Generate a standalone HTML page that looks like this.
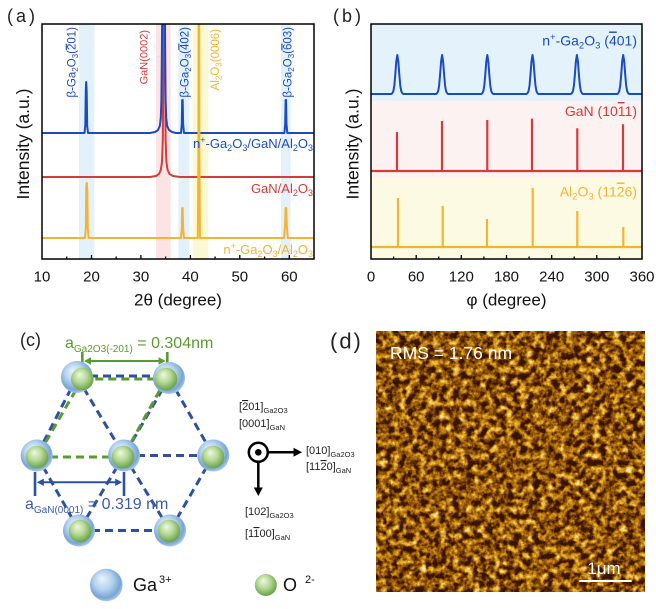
<!DOCTYPE html>
<html><head><meta charset="utf-8"><style>
html,body{margin:0;padding:0;background:#fff;}
body{width:656px;height:609px;overflow:hidden;}
svg{display:block;}
</style></head><body>
<svg width="656" height="609" viewBox="0 0 656 609" xmlns="http://www.w3.org/2000/svg" font-family="'Liberation Sans', Arial, sans-serif">
<defs>
<clipPath id="ca"><rect x="42" y="24" width="272" height="235"/></clipPath>
<clipPath id="cb"><rect x="371" y="24" width="271" height="235"/></clipPath>
<radialGradient id="ga" cx="0.45" cy="0.42" r="0.58" fx="0.36" fy="0.3">
<stop offset="0" stop-color="#eaf4fd"/><stop offset="0.5" stop-color="#b3d2ee"/><stop offset="0.85" stop-color="#78a5d3"/><stop offset="1" stop-color="#a8c8e8"/>
</radialGradient>
<radialGradient id="ox" cx="0.45" cy="0.42" r="0.6" fx="0.38" fy="0.3">
<stop offset="0" stop-color="#f0f9e2"/><stop offset="0.5" stop-color="#b5d996"/><stop offset="0.88" stop-color="#78ad56"/><stop offset="1" stop-color="#66994a"/>
</radialGradient>
<filter id="afm" filterUnits="userSpaceOnUse" x="376" y="331" width="269" height="261" color-interpolation-filters="sRGB">
<feTurbulence type="fractalNoise" baseFrequency="0.15" numOctaves="3" seed="5" result="t"/>
<feColorMatrix in="t" type="matrix" values="0.6 0.4 0 0 0  0.6 0.4 0 0 0  0.6 0.4 0 0 0  0 0 0 0 1"/>
<feComponentTransfer>
<feFuncR type="linear" slope="2.4" intercept="-0.9"/>
<feFuncG type="linear" slope="2.4" intercept="-0.9"/>
<feFuncB type="linear" slope="2.4" intercept="-0.9"/>
</feComponentTransfer>
<feComponentTransfer>
<feFuncR type="table" tableValues="0.22 0.4 0.6 0.78 0.9 0.97 1"/>
<feFuncG type="table" tableValues="0.08 0.2 0.36 0.53 0.7 0.84 0.95"/>
<feFuncB type="table" tableValues="0 0.01 0.03 0.08 0.2 0.45 0.75"/>
</feComponentTransfer>
</filter>
</defs>

<!-- ============ PANEL (a) ============ -->
<text x="7" y="22" font-size="18" letter-spacing="3" fill="#222">(a)</text>
<rect x="79" y="24" width="15.3" height="235" fill="#e3f1fb"/>
<rect x="156" y="24" width="14.7" height="235" fill="#fbe4e4"/>
<rect x="178.3" y="24" width="11" height="235" fill="#e3f1fb"/>
<rect x="192.7" y="24" width="15.6" height="235" fill="#fbf9d2"/>
<rect x="281" y="24" width="9.7" height="235" fill="#e3f1fb"/>

<g clip-path="url(#ca)" fill="none" stroke-width="2" stroke-linejoin="round">
<path stroke="#d43b3b" d="M42,177 H150 L156,176 L159,174 L160.8,170 L162,162 L162.8,140 L163.2,80 L163.4,10 L165,10 L165.2,80 L165.6,140 L166.4,162 L167.6,170 L169.5,174 L173,176 L180,177 H314"/>
<path stroke="#1b4bc2" d="M42,133 H84.5 L85.3,125 L85.8,90 L86.2,82 L86.7,92 L87.2,126 L88,133 H150 L155,132 L158,130 L159.8,126 L160.8,118 L161.4,100 L161.8,60 L162.2,10 L164.8,10 L165.2,60 L165.6,100 L166.2,118 L167.2,126 L169,130 L172,132 L176,133 H181 L181.8,124 L182.2,100 L182.7,100 L183.1,124 L184,133 H284.4 L285.2,124 L285.6,100 L286.1,100 L286.5,124 L287.3,133 H314"/>
<path stroke="#f3b432" d="M42,238 H85 L85.8,228 L86.3,186 L86.8,183 L87.3,190 L87.8,228 L88.6,238 H181 L181.8,228 L182.2,208 L182.7,208 L183.1,228 L184,238 H197.8 L198.4,150 L198.6,10 L199.2,10 L199.4,150 L200,238 H284 L285,226 L285.6,208 L286.2,208 L286.8,226 L287.8,238 H314"/>
</g>

<!-- peak labels (a) -->
<text transform="translate(75.7,27) rotate(-90)" text-anchor="end" font-size="11.5" fill="#1b4bc2">β-Ga<tspan font-size="8" dy="2.5">2</tspan><tspan dy="-2.5">O</tspan><tspan font-size="8" dy="2.5">3</tspan><tspan dy="-2.5">(</tspan><tspan text-decoration="overline">2</tspan>01)</text>
<text transform="translate(147.3,30) rotate(-90)" text-anchor="end" font-size="11" fill="#d43b3b">GaN(0002)</text>
<text transform="translate(188.3,27) rotate(-90)" text-anchor="end" font-size="11.5" fill="#1b4bc2">β-Ga<tspan font-size="8" dy="2.5">2</tspan><tspan dy="-2.5">O</tspan><tspan font-size="8" dy="2.5">3</tspan><tspan dy="-2.5">(</tspan><tspan text-decoration="overline">4</tspan>02)</text>
<text transform="translate(219,29) rotate(-90)" text-anchor="end" font-size="11.5" fill="#f0b433">Al<tspan font-size="8" dy="2.5">2</tspan><tspan dy="-2.5">O</tspan><tspan font-size="8" dy="2.5">3</tspan><tspan dy="-2.5">(0006)</tspan></text>
<text transform="translate(291.3,27) rotate(-90)" text-anchor="end" font-size="11.5" fill="#1b4bc2">β-Ga<tspan font-size="8" dy="2.5">2</tspan><tspan dy="-2.5">O</tspan><tspan font-size="8" dy="2.5">3</tspan><tspan dy="-2.5">(</tspan><tspan text-decoration="overline">6</tspan>03)</text>

<!-- sample labels (a) -->
<text x="313" y="148" text-anchor="end" font-size="13" fill="#1b4bc2">n<tspan font-size="9" dy="-5">+</tspan><tspan dy="5">-Ga</tspan><tspan font-size="9" dy="3">2</tspan><tspan dy="-3">O</tspan><tspan font-size="9" dy="3">3</tspan><tspan dy="-3">/GaN/Al</tspan><tspan font-size="9" dy="3">2</tspan><tspan dy="-3">O</tspan><tspan font-size="9" dy="3">3</tspan></text>
<text x="313" y="193" text-anchor="end" font-size="13" fill="#d43b3b">GaN/Al<tspan font-size="9" dy="3">2</tspan><tspan dy="-3">O</tspan><tspan font-size="9" dy="3">3</tspan></text>
<text x="313" y="254" text-anchor="end" font-size="13" fill="#f0b433">n<tspan font-size="9" dy="-5">+</tspan><tspan dy="5">-Ga</tspan><tspan font-size="9" dy="3">2</tspan><tspan dy="-3">O</tspan><tspan font-size="9" dy="3">3</tspan><tspan dy="-3">/Al</tspan><tspan font-size="9" dy="3">2</tspan><tspan dy="-3">O</tspan><tspan font-size="9" dy="3">3</tspan></text>

<rect x="42" y="24" width="272" height="235" fill="none" stroke="#000" stroke-width="1.5"/>
<path stroke="#000" stroke-width="1.3" d="M91.5,259 v-4 M140.9,259 v-4 M190.4,259 v-4 M239.8,259 v-4 M289.3,259 v-4 M66.7,259 v-2.5 M116.2,259 v-2.5 M165.6,259 v-2.5 M215.1,259 v-2.5 M264.6,259 v-2.5"/>
<g font-size="15" text-anchor="middle" fill="#111">
<text x="42" y="281.5">10</text><text x="91.5" y="281.5">20</text><text x="140.9" y="281.5">30</text><text x="190.4" y="281.5">40</text><text x="239.8" y="281.5">50</text><text x="289.3" y="281.5">60</text>
</g>
<text x="178" y="305.5" font-size="17" text-anchor="middle" fill="#111">2θ (degree)</text>
<text transform="translate(29,144) rotate(-90)" font-size="17.5" text-anchor="middle" fill="#111">Intensity (a.u.)</text>

<!-- ============ PANEL (b) ============ -->
<text x="333" y="22" font-size="18" letter-spacing="3" fill="#222">(b)</text>
<rect x="371" y="24" width="271" height="77" fill="#e4f2fb"/>
<rect x="371" y="101" width="271" height="77" fill="#fcf2f2"/>
<rect x="371" y="178" width="271" height="81" fill="#fcfae3"/>
<g clip-path="url(#cb)" fill="none" stroke-width="2" stroke-linejoin="round">
<path stroke="#1b4bc2" d="M371,94 L391.3,94 l1,-0.8 l1,-1.9 l1,-5.5 l1,-11.3 l1,-13.3 l1,-6.2 l1,6.2 l1,13.3 l1,11.3 l1,5.5 l1,1.9 l1,0.8 L436.1,94 l1,-0.8 l1,-1.9 l1,-5.5 l1,-11.3 l1,-13.3 l1,-6.2 l1,6.2 l1,13.3 l1,11.3 l1,5.5 l1,1.9 l1,0.8 L481.3,94 l1,-0.8 l1,-1.9 l1,-5.5 l1,-11.3 l1,-13.3 l1,-6.2 l1,6.2 l1,13.3 l1,11.3 l1,5.5 l1,1.9 l1,0.8 L526.5,94 l1,-0.8 l1,-1.9 l1,-5.5 l1,-11.3 l1,-13.3 l1,-6.2 l1,6.2 l1,13.3 l1,11.3 l1,5.5 l1,1.9 l1,0.8 L570.9,94 l1,-0.8 l1,-1.9 l1,-5.5 l1,-11.3 l1,-13.3 l1,-6.2 l1,6.2 l1,13.3 l1,11.3 l1,5.5 l1,1.9 l1,0.8 L617.2,94 l1,-0.8 l1,-1.9 l1,-5.5 l1,-11.3 l1,-13.3 l1,-6.2 l1,6.2 l1,13.3 l1,11.3 l1,5.5 l1,1.9 l1,0.8 L642,94"/>
<path stroke="#d43b3b" stroke-width="2.2" d="M371,171 H642 M397,171 V132 M442,171 V121 M487.3,171 V120 M532,171 V118.6 M577.3,171 V128.3 M623,171 V124.3"/>
<path stroke="#f3b432" stroke-width="2.2" d="M371,247 H642 M398,247 V198 M442.7,247 V206 M487,247 V219 M532.7,247 V188 M577.3,247 V211 M623.3,247 V227"/>
</g>
<text x="637" y="45.5" text-anchor="end" font-size="14" fill="#1b4bc2">n<tspan font-size="9.5" dy="-5.5">+</tspan><tspan dy="5.5">-Ga</tspan><tspan font-size="9.5" dy="3">2</tspan><tspan dy="-3">O</tspan><tspan font-size="9.5" dy="3">3</tspan><tspan dy="-3"> (</tspan><tspan text-decoration="overline">4</tspan>01)</text>
<text x="637" y="116" text-anchor="end" font-size="14" fill="#d43b3b">GaN (10<tspan text-decoration="overline">1</tspan>1)</text>
<text x="637" y="196.5" text-anchor="end" font-size="14" fill="#f0b433">Al<tspan font-size="9.5" dy="3">2</tspan><tspan dy="-3">O</tspan><tspan font-size="9.5" dy="3">3</tspan><tspan dy="-3"> (11</tspan><tspan text-decoration="overline">2</tspan>6)</text>

<rect x="371" y="24" width="271" height="235" fill="none" stroke="#000" stroke-width="1.5"/>
<path stroke="#000" stroke-width="1.3" d="M416.2,259 v-4 M461.3,259 v-4 M506.5,259 v-4 M551.7,259 v-4 M596.8,259 v-4 M393.6,259 v-2.5 M438.7,259 v-2.5 M483.9,259 v-2.5 M529.1,259 v-2.5 M574.2,259 v-2.5 M619.4,259 v-2.5"/>
<g font-size="15" text-anchor="middle" fill="#111">
<text x="371" y="281.5">0</text><text x="416.2" y="281.5">60</text><text x="461.3" y="281.5">120</text><text x="506.5" y="281.5">180</text><text x="551.7" y="281.5">240</text><text x="596.8" y="281.5">300</text><text x="642" y="281.5">360</text>
</g>
<text x="506.5" y="305.5" font-size="17" text-anchor="middle" fill="#111">φ (degree)</text>
<text transform="translate(358.5,144) rotate(-90)" font-size="17.5" text-anchor="middle" fill="#111">Intensity (a.u.)</text>

<!-- ============ PANEL (c) ============ -->
<text x="20" y="346.2" font-size="18" fill="#222">(c)</text>
<text x="65" y="348" font-size="16" fill="#5a9a32">a<tspan font-size="10" dy="4">Ga2O3(-201)</tspan><tspan dy="-4"> = 0.304nm</tspan></text>
<g stroke="#5a9a32" fill="#5a9a32">
<path d="M82.3,352 V373 M167.3,352 V373" stroke-width="2.6" fill="none"/>
<path d="M88,361 H162" stroke-width="2" fill="none"/>
<polygon points="84,361 91,357.3 91,364.7" stroke="none"/>
<polygon points="165.6,361 158.6,357.3 158.6,364.7" stroke="none"/>
</g>

<g stroke="#2d51a0" stroke-width="3" stroke-dasharray="8 5" fill="none">
<path d="M77,376 L169,376"/>
<path d="M77,377 L36.7,455.5"/>
<path d="M77,377 L124,455.5"/>
<path d="M169,378 L124,455.5"/>
<path d="M169,378 L213.3,455.5"/>
<path d="M36.7,455.5 L79,530.5"/>
<path d="M124,455.5 L79,530.5"/>
<path d="M124,455.5 L170,530.5"/>
<path d="M213.3,455.5 L170,530.5"/>
<path d="M79,530.5 L170,530.5"/>
<path d="M124,455.5 L213.3,455.5"/>
</g>
<g stroke="#5a9a32" stroke-width="3" stroke-dasharray="8 5" fill="none">
<path d="M82.3,379 L166,379"/>
<path d="M82.3,379 L37,457"/>
<path d="M166,379 L123,457"/>
<path d="M37,457 L123,457"/>
</g>
<g>
<circle cx="77" cy="377" r="16" fill="url(#ga)"/><circle cx="82.3" cy="379" r="11.3" fill="url(#ox)"/>
<circle cx="169" cy="378" r="16" fill="url(#ga)"/><circle cx="166" cy="379" r="11.3" fill="url(#ox)"/>
<circle cx="36.7" cy="455.5" r="16" fill="url(#ga)"/><circle cx="37" cy="457" r="11.3" fill="url(#ox)"/>
<circle cx="124" cy="455.5" r="16" fill="url(#ga)"/><circle cx="123" cy="457" r="11.3" fill="url(#ox)"/>
<circle cx="213.3" cy="455.5" r="16" fill="url(#ga)"/><circle cx="213" cy="457" r="11.3" fill="url(#ox)"/>
<circle cx="79" cy="530.5" r="16" fill="url(#ga)"/><circle cx="80" cy="531" r="11.3" fill="url(#ox)"/>
<circle cx="170" cy="530.5" r="16" fill="url(#ga)"/><circle cx="169" cy="531" r="11.3" fill="url(#ox)"/>
</g>
<g stroke="#2d51a0" fill="#2d51a0">
<path d="M35,472 V496 M124,472 V496" stroke-width="2.6" fill="none"/>
<path d="M41,482.3 H118" stroke-width="2" fill="none"/>
<polygon points="36.8,482.3 43.8,478.6 43.8,486" stroke="none"/>
<polygon points="122.2,482.3 115.2,478.6 115.2,486" stroke="none"/>
</g>
<text x="25" y="509" font-size="16" fill="#3a5ca8">a<tspan font-size="10" dy="4">GaN(0001)</tspan><tspan dy="-4"> = 0.319 nm</tspan></text>

<circle cx="258.3" cy="452.3" r="9.5" fill="#fff" stroke="#000" stroke-width="2.5"/>
<circle cx="258.3" cy="452.3" r="3.3" fill="#000"/>
<path d="M268,452.3 H295 M258.3,462 V489" stroke="#000" stroke-width="2.5"/>
<polygon points="302,452.3 293.5,447.8 293.5,456.8" fill="#000"/>
<polygon points="258.3,496 253.8,487.5 262.8,487.5" fill="#000"/>
<g font-size="11" fill="#222">
<text x="239" y="410">[<tspan text-decoration="overline">2</tspan>01]<tspan font-size="7.5" dy="3">Ga2O3</tspan></text>
<text x="239" y="427">[0001]<tspan font-size="7.5" dy="3">GaN</tspan></text>
<text x="306" y="454">[010]<tspan font-size="7.5" dy="3">Ga2O3</tspan></text>
<text x="306" y="470">[11<tspan text-decoration="overline">2</tspan>0]<tspan font-size="7.5" dy="3">GaN</tspan></text>
<text x="245" y="515">[102]<tspan font-size="7.5" dy="3">Ga2O3</tspan></text>
<text x="245" y="537">[1<tspan text-decoration="overline">1</tspan>00]<tspan font-size="7.5" dy="3">GaN</tspan></text>
</g>

<circle cx="106.3" cy="585" r="16.3" fill="url(#ga)"/>
<text x="133" y="591" font-size="18" fill="#111">Ga<tspan font-size="11" dx="2" dy="-8">3+</tspan></text>
<circle cx="265.8" cy="585" r="11" fill="url(#ox)"/>
<text x="283" y="591" font-size="18" fill="#111">O<tspan font-size="11" dx="8" dy="-8">2-</tspan></text>

<!-- ============ PANEL (d) ============ -->
<text x="330" y="348.7" font-size="22" letter-spacing="2" fill="#222">(d)</text>
<rect x="376" y="331" width="269" height="261" fill="#8a5410"/>
<rect x="376" y="331" width="269" height="261" fill="#000" filter="url(#afm)"/>
<text x="390" y="359" font-size="17.5" fill="#fff">RMS = 1.76 nm</text>
<text x="604" y="574" font-size="17" text-anchor="middle" fill="#fff">1μm</text>
<path d="M579.3,581 H631.7" stroke="#fff" stroke-width="2"/>
</svg>
</body></html>
